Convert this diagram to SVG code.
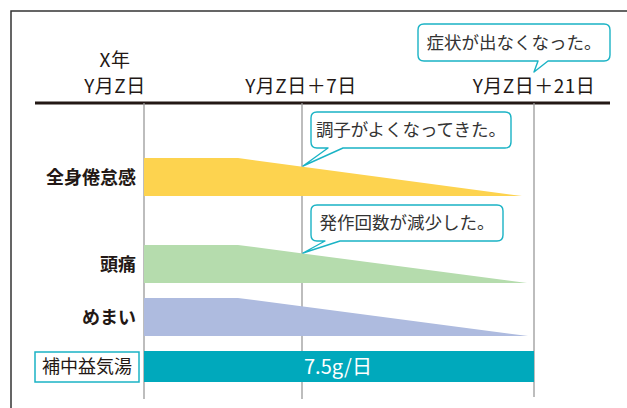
<svg xmlns="http://www.w3.org/2000/svg" width="627" height="408" viewBox="0 0 627 408">
<style>
text{font-family:"Noto Sans CJK JP","Noto Sans",sans-serif;fill:#231815}
.hd{font-size:19px;text-anchor:middle;letter-spacing:0.5px}
.lb{font-size:18px;font-weight:bold;text-anchor:end}
.co{font-size:17.5px;text-anchor:middle;fill:#333}
.bub{fill:#fff;stroke:#1AB3C5;stroke-width:1.4;stroke-linejoin:round}
.vl{stroke:#9a9a9a;stroke-width:1.3}
</style>
<rect width="627" height="408" fill="#fff"/>
<path d="M11,408 V11 H627" fill="none" stroke="#333" stroke-width="1.5"/>
<g id="header">
<text class="hd" x="115" y="67">X年</text>
<text class="hd" x="115" y="93">Y月Z日</text>
<text class="hd" x="301" y="93">Y月Z日＋7日</text>
<text class="hd" x="534" y="93">Y月Z日＋21日</text>
<line x1="35" y1="103" x2="610" y2="103" stroke="#231815" stroke-width="3"/>
</g>
<g id="gridlines">
<line class="vl" x1="144" y1="103" x2="144" y2="399"/>
<line class="vl" x1="302" y1="103" x2="302" y2="399"/>
<line class="vl" x1="534" y1="103" x2="534" y2="397"/>
</g>
<g id="fatigue">
<polygon points="144,158 238,158 522,196 144,196" fill="#FDD34F"/>
<text class="lb" x="136" y="184">全身倦怠感</text>
</g>
<g id="headache">
<polygon points="144,245 238,245 527,283 144,283" fill="#B5DCAD"/>
<text class="lb" x="136" y="271">頭痛</text>
</g>
<g id="dizziness">
<polygon points="144,298 238,298 528,336 144,336" fill="#AEBBDF"/>
<text class="lb" x="136" y="324">めまい</text>
</g>
<g id="drug">
<rect x="35" y="352" width="104" height="30" fill="#fff" stroke="#1AB3C5" stroke-width="1.5"/>
<text x="87" y="373" style="font-size:18px;text-anchor:middle">補中益気湯</text>
<rect x="144" y="351" width="390" height="31" fill="#00A9BC"/>
<text x="338" y="374" style="font-size:20px;text-anchor:middle;fill:#fff">7.5g/日</text>
</g>
<g id="callouts">
<g id="c1">
<path class="bub" d="M424,24 H604 Q610,24 610,30 V55 Q610,61 604,61 H548 L534,72 L538,61 H424 Q418,61 418,55 V30 Q418,24 424,24 Z"/>
<text class="co" x="514" y="49">症状が出なくなった。</text>
</g>
<g id="c2">
<path class="bub" d="M317,112 H505 Q511,112 511,118 V142 Q511,148 505,148 H343 L303,166 L328,148 H317 Q311,148 311,142 V118 Q311,112 317,112 Z"/>
<text class="co" x="411" y="136">調子がよくなってきた。</text>
</g>
<g id="c3">
<path class="bub" d="M317,205 H497 Q503,205 503,211 V235 Q503,241 497,241 H340 L303,253 L325,241 H317 Q311,241 311,235 V211 Q311,205 317,205 Z"/>
<text class="co" x="407" y="229">発作回数が減少した。</text>
</g>
</g>
</svg>
